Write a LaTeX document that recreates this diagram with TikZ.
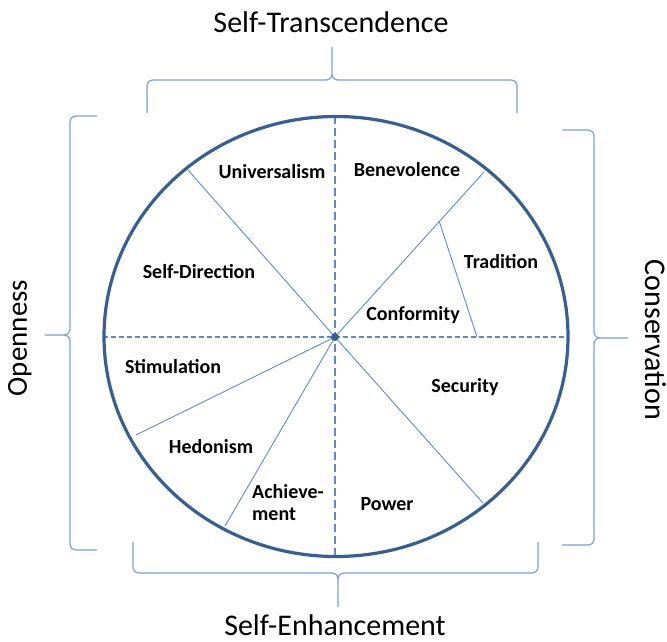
\documentclass[tikz,border=0pt]{standalone}
\usepackage{fontspec}
\setmainfont{Carlito}
\usetikzlibrary{calc}
\definecolor{rimblue}{HTML}{395F90}
\definecolor{lineblue}{HTML}{5B8AD0}
\definecolor{braceblue}{HTML}{7C9FD8}

\begin{document}
\begin{tikzpicture}[x=1pt,y=1pt,
    value/.style={font=\bfseries\fontsize{20}{22}\selectfont},
    pole/.style={font=\fontsize{30}{34}\selectfont,inner sep=0pt},
    divider/.style={draw=lineblue,line width=0.9pt},
    axis/.style={draw=lineblue,line width=1.6pt,dash pattern=on 8pt off 4pt},
    brace/.style={draw=braceblue,line width=1.2pt,rounded corners=6pt}]
  \useasboundingbox (0,0) rectangle (667,641);
  \coordinate (c) at (335,304);
  % ends of the spokes on the rim
  \coordinate (ul) at (188,471);
  \coordinate (ur) at (484,469);
  \coordinate (ll) at (136,206);
  \coordinate (ach) at (225,115);
  \coordinate (lr) at (483,138);
  \coordinate (trad) at (477,304);
  \draw[divider] (c) -- (ul) (c) -- (ur) (c) -- (ll) (c) -- (ach) (c) -- (lr);
  \draw[divider] ($(c)!0.7!(ur)$) -- (trad);
  % axes
  \draw[axis] (335,525) -- (335,84);
  \draw[axis,line width=1.1pt,dash pattern=on 5pt off 3pt] (103,304) -- (569,304);
  \draw[rimblue,line width=3.2pt] (336,304.5) ellipse (232pt and 220pt);
  \fill[rimblue] (c) circle (4pt);
  % values
  \node[value] (univ) at (272,469) {Universalism};
  \node[value] (bene) at (407,471) {Benevolence};
  \node[value] (tradn) at (501,379) {Tradition};
  \node[value] (conf) at (413,326) {Conformity};
  \node[value] (sdir) at (199,369) {Self-Direction};
  \node[value] (stim) at (173,274) {Stimulation};
  \node[value] (hedo) at (211,194) {Hedonism};
  \node[value,align=left] (achv) at (288,138) {Achieve-\\ment};
  \node[value] (secu) at (465,254) {Security};
  \node[value] (powr) at (387,137) {Power};
  % braces
  \draw[brace] (147,528) |- (332,561) -- (332,594) (517,528) |- (332,561) -- (332,594);
  \draw[brace] (97,525) -| (70,306) -- (45,306) (97,91) -| (70,306) -- (45,306);
  \draw[brace] (562,511) -| (594,303) -- (628,303) (562,96) -| (594,303) -- (628,303);
  \draw[brace] (133,99) |- (338,68) -- (338,34) (538,99) |- (338,68) -- (338,34);
  % dimensions
  \node[pole,anchor=base] (trans) at (331,608) {Self-Transcendence};
  \node[pole,anchor=base] (enh) at (335,6) {Self-Enhancement};
  \node[pole,anchor=base,rotate=90,font=\fontsize{29}{32}\selectfont] (open) at (27,303) {Openness};
  \node[pole,anchor=base,rotate=-90] (cons) at (645,301) {Conservation};
\end{tikzpicture}
\end{document}
